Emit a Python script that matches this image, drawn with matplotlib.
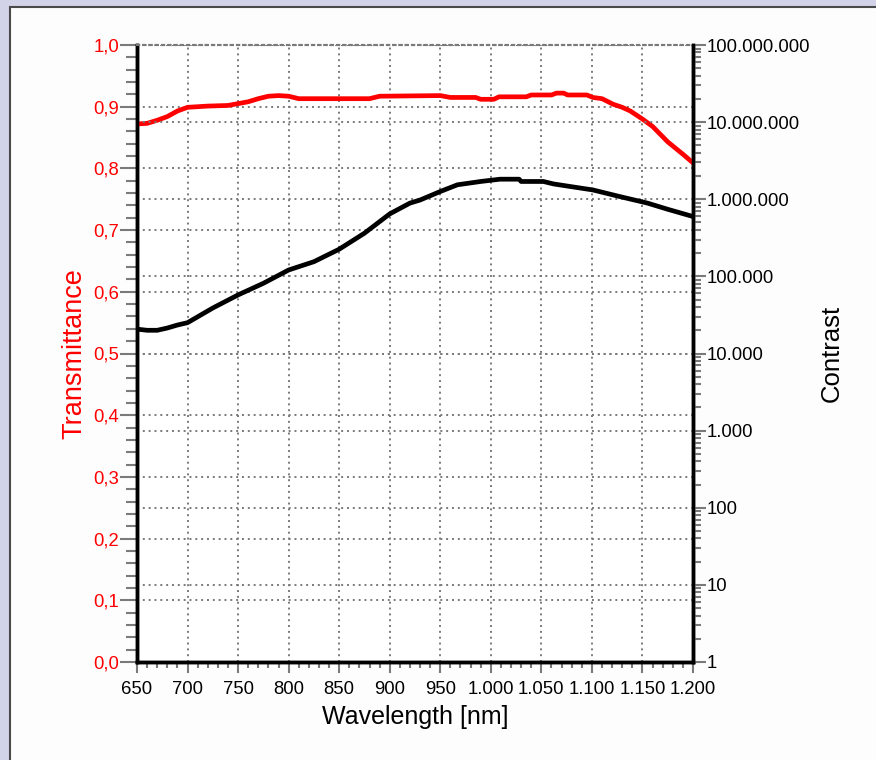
import matplotlib
matplotlib.use("Agg")
import numpy as np
import matplotlib.pyplot as plt
from matplotlib.patches import Rectangle
from matplotlib.ticker import FixedLocator, FuncFormatter, LogLocator, NullFormatter

plt.rcParams['font.family'] = ['Liberation Sans', 'DejaVu Sans']

# transmittance (red, left axis)
wl_t = [650, 660, 670, 680, 690, 700, 720, 740, 750, 760, 770, 780, 790, 800,
        810, 850, 880, 890, 950, 960, 985, 990, 1003, 1008, 1035, 1040, 1060,
        1065, 1072, 1076, 1095, 1101, 1110, 1121, 1130, 1138, 1150, 1160, 1175,
        1190, 1200]
transmittance = [0.872, 0.873, 0.878, 0.884, 0.893, 0.899, 0.901, 0.902, 0.905,
                 0.908, 0.913, 0.917, 0.918, 0.917, 0.913, 0.913, 0.913, 0.917,
                 0.918, 0.915, 0.915, 0.912, 0.912, 0.916, 0.916, 0.919, 0.919,
                 0.922, 0.922, 0.919, 0.919, 0.915, 0.913, 0.904, 0.899, 0.893,
                 0.880, 0.868, 0.843, 0.823, 0.809]

# contrast (black, right axis, log)
wl_c = [650, 660, 670, 680, 690, 700, 725, 750, 775, 800, 825, 850, 875, 900,
        920, 930, 950, 967, 990, 1009, 1028, 1030, 1052, 1062, 1082, 1101, 1128,
        1155, 1175, 1200]
contrast = [2.07e4, 2.0e4, 2.0e4, 2.14e4, 2.34e4, 2.51e4, 3.89e4, 5.75e4, 8.13e4,
            1.21e5, 1.55e5, 2.25e5, 3.63e5, 6.46e5, 8.91e5, 9.77e5, 1.26e6,
            1.54e6, 1.70e6, 1.82e6, 1.82e6, 1.70e6, 1.70e6, 1.58e6, 1.44e6,
            1.32e6, 1.08e6, 8.91e5, 7.41e5, 5.97e5]

x_major = np.arange(650, 1201, 50)
x_minor = np.arange(650, 1201, 10)
t_major = np.arange(0, 1.01, 0.1)
t_minor = np.arange(0, 1.001, 0.02)
c_major = [10.0 ** k for k in range(0, 9)]

W, H = 876, 760
fig = plt.figure(figsize=(W / 100, H / 100), dpi=100, facecolor='#d2d2e8')
fig.patches.append(Rectangle((10 / W, -0.01), 1.0, 1 - 7 / H + 0.01,
                             transform=fig.transFigure, facecolor='#fdfdfd',
                             edgecolor='#4a4a4a', lw=1.5, zorder=-5))

ax = fig.add_axes([137 / W, 1 - 662 / H, (693 - 137) / W, (662 - 45) / H])
ax.set_facecolor('white')
ax2 = ax.twinx()

gray = '#7a7a7a'
dots = (0, (1, 2))

ax.plot(wl_t, transmittance, color='#ff0000', lw=3.4, zorder=5)
ax2.plot(wl_c, contrast, color='black', lw=3.4, zorder=5)

ax.set_xlim(650, 1200)
ax.set_ylim(0, 1.0)
ax2.set_yscale('log')
ax2.set_ylim(1, 1e8)

ax.xaxis.set_major_locator(FixedLocator(x_major))
ax.xaxis.set_minor_locator(FixedLocator(x_minor))
ax.yaxis.set_major_locator(FixedLocator(t_major))
ax.yaxis.set_minor_locator(FixedLocator(t_minor))
ax2.yaxis.set_major_locator(FixedLocator(c_major))
ax2.yaxis.set_minor_locator(LogLocator(base=10, subs=np.arange(2, 10), numticks=20))
ax2.yaxis.set_minor_formatter(NullFormatter())

ax.xaxis.set_major_formatter(FuncFormatter(lambda v, p: f"{int(round(v)):,}".replace(",", ".")))
ax.yaxis.set_major_formatter(FuncFormatter(lambda v, p: f"{v:.1f}".replace(".", ",")))
ax2.yaxis.set_major_formatter(FuncFormatter(lambda v, p: f"{int(round(v)):,}".replace(",", ".")))

ax.grid(True, which='major', axis='both', color=gray, ls=dots, lw=1.4)
ax2.grid(True, which='major', axis='y', color=gray, ls=dots, lw=1.4)

ax.tick_params(axis='x', which='major', direction='out', length=8, width=1.5,
               color=gray, labelsize=13.3, pad=6)
ax.tick_params(axis='x', which='minor', direction='out', length=4.5, width=1.5, color=gray)
ax.tick_params(axis='y', which='major', direction='out', length=12, width=1.5,
               color=gray, labelsize=13.3, labelcolor='#ff0000', pad=1)
ax.tick_params(axis='y', which='minor', direction='out', length=8, width=1.5, color=gray)
ax2.tick_params(axis='y', which='major', direction='out', length=9, width=1.5,
                color=gray, labelsize=13.3, pad=1)
ax2.tick_params(axis='y', which='minor', direction='out', length=6, width=1.5, color=gray)

for a in (ax, ax2):
    a.spines['left'].set_linewidth(2.5)
    a.spines['right'].set_linewidth(2.5)
    a.spines['bottom'].set_linewidth(2.5)
    a.spines['top'].set_color(gray)
    a.spines['top'].set_linestyle(dots)
    a.spines['top'].set_linewidth(1.5)

ax.set_xlabel('Wavelength [nm]', fontsize=18, labelpad=5)
ax.set_ylabel('Transmittance', fontsize=19.5, color='#ff0000', labelpad=4)
ax2.set_ylabel('Contrast', fontsize=18.5, labelpad=7)

fig.savefig('out.png', dpi=100, facecolor=fig.get_facecolor())
